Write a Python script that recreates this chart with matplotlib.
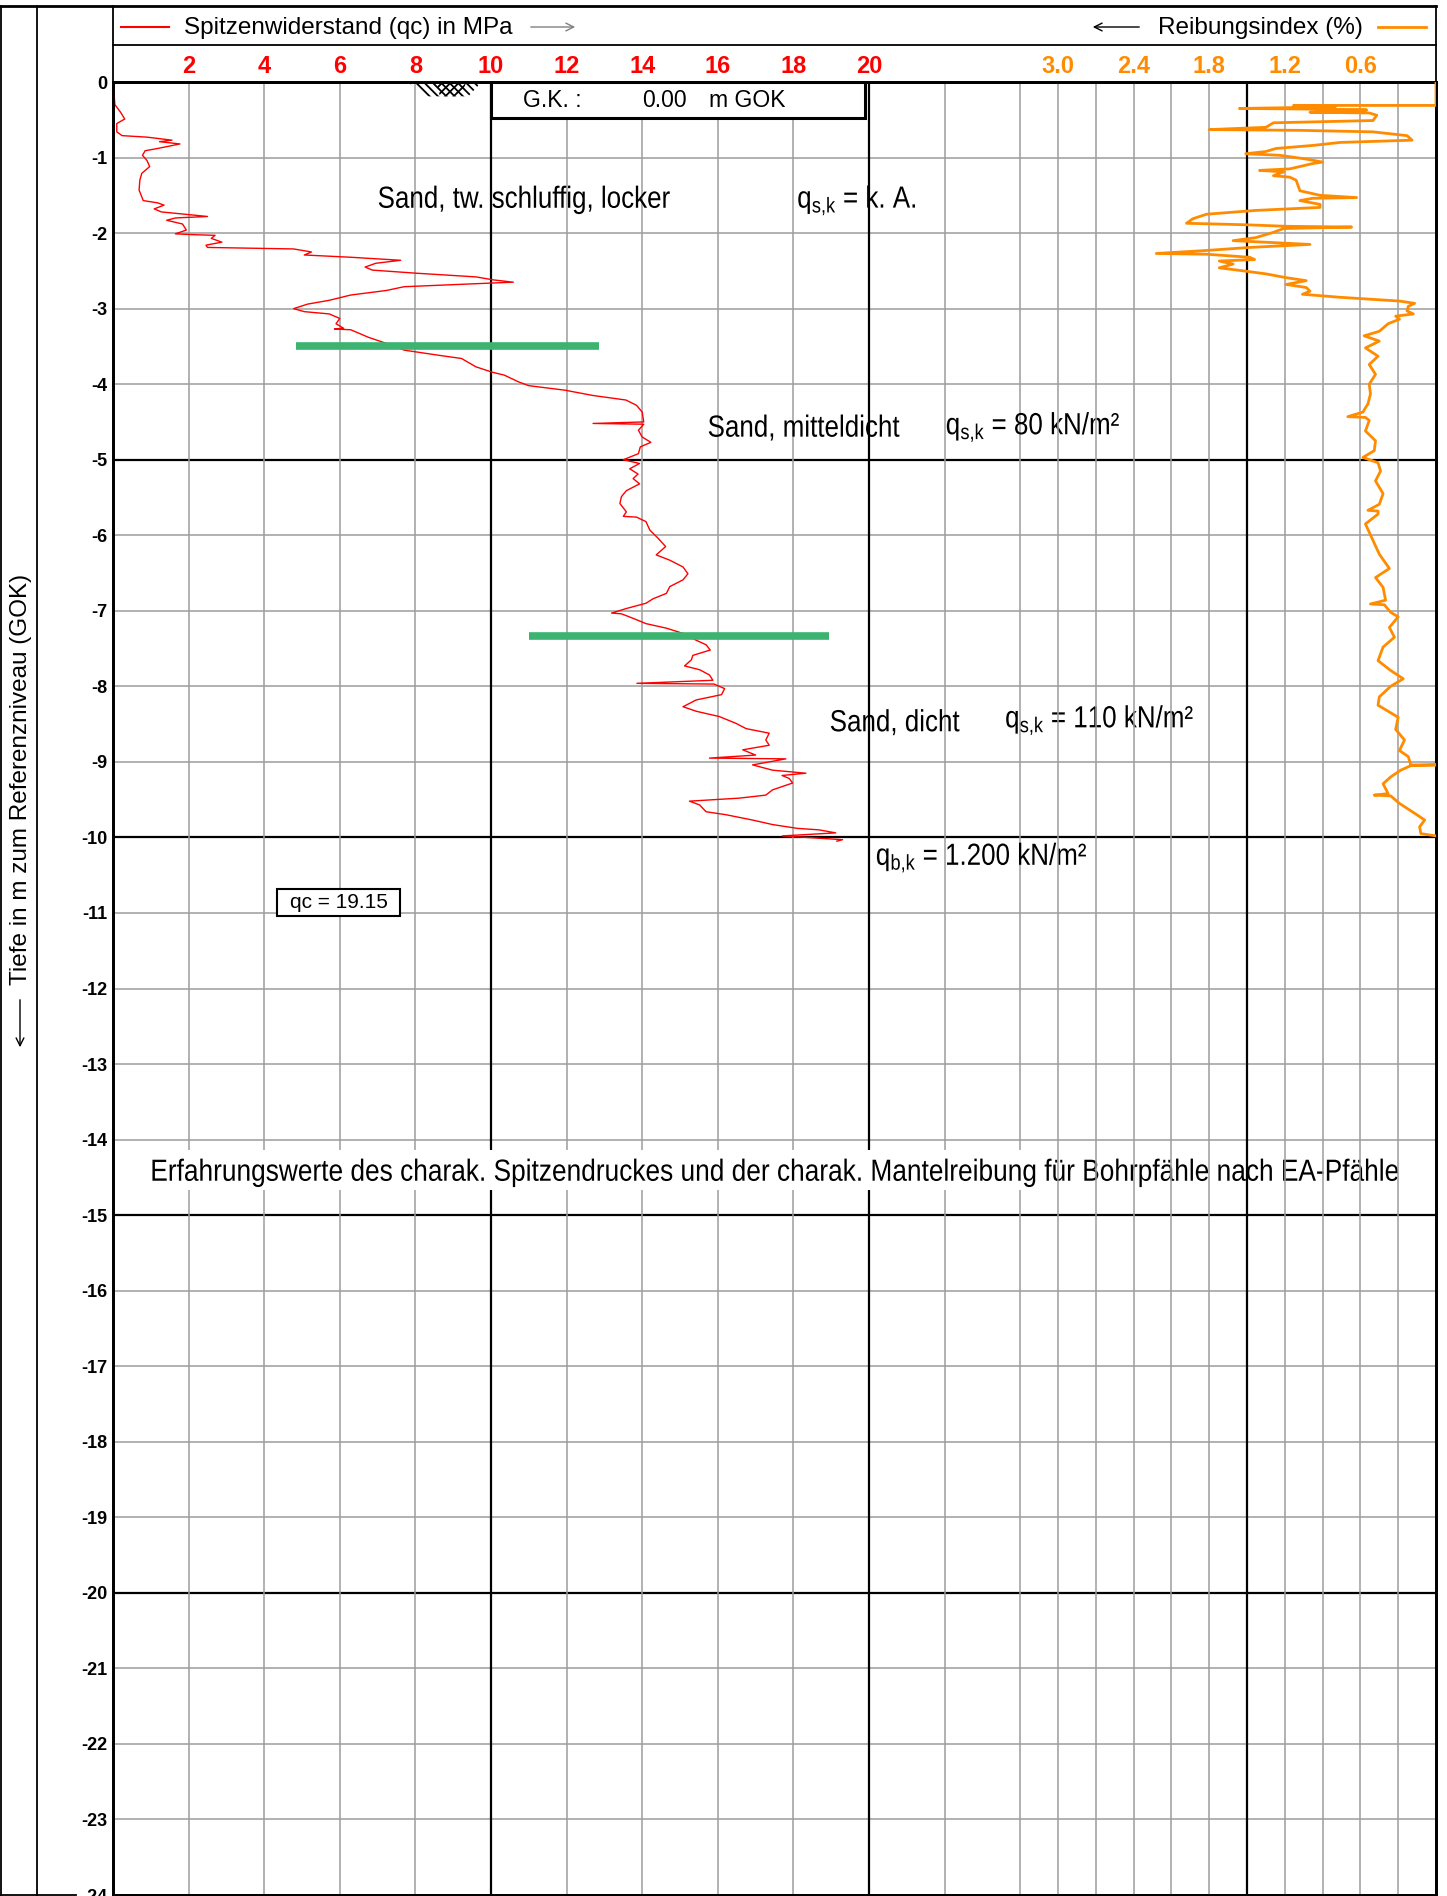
import matplotlib
matplotlib.use('Agg')
import matplotlib.pyplot as plt
from matplotlib.lines import Line2D
from matplotlib.patches import Rectangle, Polygon, PathPatch, FancyArrowPatch
from matplotlib.textpath import TextPath
from matplotlib.font_manager import FontProperties
from matplotlib.transforms import Affine2D, ScaledTranslation

plt.rcParams['font.family'] = ['Liberation Sans', 'DejaVu Sans']
plt.rcParams['mathtext.fontset'] = 'custom'
plt.rcParams['mathtext.rm'] = 'Liberation Sans'
plt.rcParams['mathtext.it'] = 'Liberation Sans'
plt.rcParams['hatch.linewidth'] = 1.3

ROT = '#ff0000'
ORANGE = '#ff8c00'
GRUEN = '#3cb371'
RASTER = '#9c9c9c'

# Spitzenwiderstand qc [MPa] ueber Tiefe [m]
qc_tiefe = [0.00, 0.30, 0.40, 0.49, 0.55, 0.66, 0.71, 0.73, 0.77, 0.79, 0.82, 0.88, 0.91, 0.97,
            1.04, 1.12, 1.21, 1.30, 1.43, 1.57, 1.60, 1.63, 1.68, 1.72, 1.78, 1.80, 1.83, 1.88,
            1.96, 2.01, 2.02, 2.03, 2.07, 2.12, 2.16, 2.19, 2.21, 2.25, 2.29, 2.32, 2.36, 2.40,
            2.45, 2.49, 2.53, 2.58, 2.62, 2.65, 2.67, 2.71, 2.76, 2.82, 2.89, 2.94, 3.00, 3.04,
            3.07, 3.13, 3.20, 3.26, 3.27, 3.28, 3.38, 3.46, 3.55, 3.62, 3.66, 3.77, 3.84, 3.88,
            3.97, 4.02, 4.08, 4.15, 4.21, 4.28, 4.37, 4.50, 4.52, 4.53, 4.61, 4.70, 4.77, 4.83,
            4.92, 5.00, 5.05, 5.12, 5.19, 5.25, 5.32, 5.41, 5.49, 5.58, 5.69, 5.75, 5.76, 5.82,
            5.93, 6.04, 6.15, 6.26, 6.33, 6.42, 6.51, 6.59, 6.68, 6.77, 6.84, 6.90, 6.97, 7.03,
            7.04, 7.10, 7.17, 7.23, 7.30, 7.39, 7.45, 7.52, 7.59, 7.65, 7.73, 7.78, 7.85, 7.92,
            7.96, 7.97, 8.03, 8.11, 8.18, 8.27, 8.33, 8.40, 8.49, 8.56, 8.62, 8.71, 8.78, 8.84,
            8.91, 8.95, 8.96, 9.04, 9.11, 9.15, 9.18, 9.22, 9.28, 9.37, 9.44, 9.48, 9.52, 9.57,
            9.66, 9.70, 9.77, 9.83, 9.88, 9.90, 9.94, 9.98, 10.03, 10.05]
qc_wert = [0.00, 0.05, 0.20, 0.31, 0.10, 0.10, 0.24, 0.90, 1.56, 1.23, 1.77, 1.18, 0.85, 0.78,
           0.90, 0.97, 0.76, 0.71, 0.69, 0.80, 1.18, 1.35, 1.09, 1.28, 2.50, 1.65, 1.42, 1.84,
           1.94, 1.65, 2.08, 2.70, 2.60, 2.88, 2.46, 2.50, 4.78, 5.25, 5.06, 6.29, 7.61, 6.95,
           6.67, 6.86, 7.99, 9.60, 10.07, 10.59, 9.60, 7.70, 7.23, 6.29, 5.72, 5.15, 4.78, 5.06,
           5.72, 6.00, 5.90, 6.10, 5.86, 6.29, 6.76, 7.23, 7.71, 8.65, 9.22, 9.60, 10.02, 10.35,
           10.73, 11.00, 11.96, 12.70, 13.57, 13.85, 14.00, 14.04, 12.70, 14.04, 13.90, 14.00, 14.23, 13.95,
           13.90, 13.50, 13.93, 13.67, 13.89, 13.76, 13.93, 13.58, 13.45, 13.41, 13.58, 13.50, 13.85, 14.10,
           14.20, 14.42, 14.62, 14.37, 14.73, 15.08, 15.21, 15.08, 14.73, 14.64, 14.29, 14.10, 13.58, 13.19,
           13.45, 13.76, 14.10, 14.64, 15.08, 15.43, 15.69, 15.80, 15.34, 15.30, 15.12, 15.52, 15.78, 15.87,
           13.86, 15.90, 16.18, 16.10, 15.43, 15.08, 15.43, 16.04, 16.48, 16.75, 17.36, 17.27, 17.36, 16.66,
           17.00, 15.78, 17.80, 16.92, 17.45, 18.33, 17.70, 17.89, 17.98, 17.45, 17.27, 16.57, 15.25, 15.52,
           15.69, 16.22, 16.92, 17.45, 18.10, 18.68, 19.12, 17.71, 19.30, 19.15]

# Reibungsindex Rf [%] ueber Tiefe [m]
rf_tiefe = [0.00, 0.31, 0.31, 0.33, 0.35, 0.36, 0.37, 0.38, 0.39, 0.40, 0.41, 0.44, 0.51, 0.54,
            0.60, 0.63, 0.64, 0.66, 0.71, 0.77, 0.80, 0.84, 0.88, 0.92, 0.95, 0.97, 1.02, 1.06,
            1.08, 1.15, 1.17, 1.19, 1.24, 1.26, 1.30, 1.44, 1.50, 1.53, 1.54, 1.57, 1.62, 1.66,
            1.70, 1.75, 1.81, 1.87, 1.89, 1.91, 1.92, 1.94, 1.99, 2.02, 2.06, 2.10, 2.15, 2.19,
            2.23, 2.27, 2.28, 2.32, 2.35, 2.37, 2.41, 2.46, 2.50, 2.54, 2.59, 2.63, 2.68, 2.72,
            2.77, 2.81, 2.85, 2.90, 2.93, 2.97, 3.03, 3.07, 3.10, 3.14, 3.20, 3.30, 3.36, 3.43,
            3.52, 3.63, 3.74, 3.87, 4.00, 4.13, 4.26, 4.37, 4.43, 4.44, 4.48, 4.62, 4.75, 4.88,
            4.97, 5.04, 5.15, 5.28, 5.45, 5.59, 5.67, 5.68, 5.72, 5.85, 6.07, 6.25, 6.44, 6.56,
            6.69, 6.86, 6.91, 6.92, 7.02, 7.08, 7.22, 7.35, 7.48, 7.66, 7.79, 7.90, 8.00, 8.14,
            8.25, 8.41, 8.57, 8.71, 8.85, 8.93, 9.04, 9.04, 9.05, 9.11, 9.20, 9.29, 9.42, 9.44,
            9.45, 9.55, 9.68, 9.77, 9.86, 9.95, 9.98]
rf_wert = [0.00, 0.00, 1.13, 0.80, 1.56, 0.90, 0.55, 0.95, 0.60, 1.00, 0.53, 0.47, 0.50, 1.29,
           1.35, 1.80, 1.08, 0.50, 0.23, 0.19, 0.76, 0.98, 1.27, 1.35, 1.51, 1.24, 1.03, 0.90,
           0.98, 1.16, 1.40, 1.21, 1.29, 1.16, 1.11, 1.08, 0.92, 0.63, 0.98, 1.08, 0.92, 0.92,
           1.43, 1.82, 1.93, 1.98, 1.51, 1.19, 0.67, 1.21, 1.29, 1.35, 1.43, 1.61, 1.00, 1.48,
           1.82, 2.22, 1.82, 1.48, 1.44, 1.72, 1.61, 1.72, 1.53, 1.35, 1.19, 1.03, 1.19, 1.03,
           1.00, 1.06, 0.76, 0.29, 0.17, 0.22, 0.23, 0.18, 0.32, 0.29, 0.38, 0.45, 0.57, 0.45,
           0.56, 0.46, 0.53, 0.48, 0.53, 0.52, 0.54, 0.58, 0.70, 0.56, 0.53, 0.56, 0.48, 0.49,
           0.58, 0.46, 0.44, 0.48, 0.42, 0.45, 0.54, 0.46, 0.46, 0.56, 0.50, 0.45, 0.37, 0.48,
           0.42, 0.40, 0.52, 0.41, 0.36, 0.30, 0.37, 0.33, 0.42, 0.46, 0.36, 0.26, 0.36, 0.45,
           0.46, 0.30, 0.32, 0.25, 0.29, 0.22, 0.20, 0.00, 0.20, 0.28, 0.36, 0.42, 0.38, 0.49,
           0.36, 0.29, 0.17, 0.09, 0.13, 0.12, 0.00]

# Schichtgrenzen (gruene Balken)
grenze_tiefe = [3.50, 7.33]
grenze_von = [4.85, 11.0]
grenze_bis = [12.85, 18.95]

# Achsen / Raster
qc_max = 35.0
rf_max = 10.5
qc_ticks = [2, 4, 6, 8, 10, 12, 14, 16, 18, 20]
rf_ticks = [3.0, 2.4, 1.8, 1.2, 0.6]
rf_ticklabels = ['3.0', '2.4', '1.8', '1.2', '0.6']
raster_qc = [2, 4, 6, 8, 10, 12, 14, 16, 18, 20, 22, 24]
raster_rf = [3.0, 2.7, 2.4, 2.1, 1.8, 1.5, 1.2, 0.9, 0.6, 0.3]
tiefe_ticks = list(range(0, -25, -1))
qc_ende = qc_wert[-1]

W, H = 1447, 1896


def fx(px):
    return px / W


def fy(py):
    return 1 - py / H


fig = plt.figure(figsize=(W / 100, H / 100), dpi=100)
ax = fig.add_axes([fx(113), fy(1895), (1436 - 113) / W, (1895 - 82) / H])
ax.set_xlim(0, qc_max)
ax.set_ylim(-24, 0)
ax2 = ax.twiny()
ax2.set_xlim(rf_max, 0)


def schmal(x, y, s, size=22.0, ha='left', stretch=0.85, hinterlegt=False, zorder=5):
    # schmal laufende schrift (Arial Narrow aehnlich) als gestauchter textpfad
    fp = FontProperties(family='Liberation Sans', size=size)
    tp = TextPath((0, 0), s, prop=fp)
    bb = tp.get_extents()
    dx = 0.0 if ha == 'left' else -(bb.x0 + bb.x1) / 2
    k = fig.dpi / 72
    trans = (Affine2D().translate(dx, -0.358 * size).scale(stretch * k, k)
             + ScaledTranslation(x, y, ax.transData))
    if hinterlegt:
        p = 0.12 * size
        ax.add_artist(Rectangle((bb.x0 - p, -0.3 * size), bb.width + 2 * p, 1.3 * size,
                                transform=trans, facecolor='white', edgecolor='none',
                                zorder=zorder - 0.5))
    ax.add_artist(PathPatch(tp, transform=trans, facecolor='black', edgecolor='none',
                            zorder=zorder))


# raster
for t in tiefe_ticks[1:]:
    fett = t % 5 == 0
    ax.axhline(t, color='black' if fett else RASTER, lw=1.6 if fett else 1.1, zorder=1)
for q in raster_qc:
    fett = q % 10 == 0
    ax.axvline(q, color='black' if fett else RASTER, lw=1.6 if fett else 1.1, zorder=1)
for r in raster_rf:
    fett = abs(r - 1.5) < 1e-6
    ax2.axvline(r, color='black' if fett else RASTER, lw=1.6 if fett else 1.1, zorder=1)

# kurven
ax.plot(qc_wert, [-t for t in qc_tiefe], color=ROT, lw=1.0, zorder=4)
ax2.plot(rf_wert, [-t for t in rf_tiefe], color=ORANGE, lw=2.0, zorder=4)
for t, a, b in zip(grenze_tiefe, grenze_von, grenze_bis):
    ax.plot([a, b], [-t, -t], color=GRUEN, lw=5.5, solid_capstyle='butt', zorder=6)

# gelaendekante
ax.add_patch(Rectangle((10, -0.47), 9.9, 0.47, facecolor='white', edgecolor='black', lw=2.2, zorder=3))
ax.text(10.85, -0.24, 'G.K. :', fontsize=16.5, va='center', zorder=5)
ax.text(15.18, -0.24, '0.00', fontsize=16.5, va='center', ha='right', zorder=5)
ax.text(15.76, -0.24, 'm GOK', fontsize=16.5, va='center', zorder=5)
ax.add_patch(Polygon([(7.8, 0), (9.75, 0), (9.4, -0.19), (8.25, -0.19)], closed=True,
                     facecolor='none', edgecolor='black', lw=0, hatch='\\\\\\\\', zorder=3))
ax.add_patch(Polygon([(8.55, 0), (9.35, 0), (9.2, -0.19), (8.65, -0.19)], closed=True,
                     facecolor='none', edgecolor='black', lw=0, hatch='////', zorder=3))

# bodenbeschreibung
schmal(7.0, -1.52, 'Sand, tw. schluffig, locker')
schmal(18.1, -1.52, r'$\mathregular{q_{s{,}k}}$ = k. A.')
schmal(15.73, -4.55, 'Sand, mitteldicht')
schmal(22.03, -4.52, r'$\mathregular{q_{s{,}k}}$ = 80 kN/m²')
schmal(18.96, -8.45, 'Sand, dicht')
schmal(23.6, -8.40, r'$\mathregular{q_{s{,}k}}$ = 110 kN/m²')
schmal(20.18, -10.22, r'$\mathregular{q_{b{,}k}}$ = 1.200 kN/m²')
schmal(17.52, -14.4,
       'Erfahrungswerte des charak. Spitzendruckes und der charak. Mantelreibung für Bohrpfähle nach EA-Pfähle',
       ha='center', stretch=0.86, hinterlegt=True)

# endwert qc im kasten
ax.add_patch(Rectangle((4.34, -11.04), 3.26, 0.355, facecolor='white', edgecolor='black',
                       lw=1.5, zorder=4.5))
ax.text(5.97, -10.86, 'qc = %.2f' % qc_ende, fontsize=15, ha='center', va='center', zorder=5)

# achsbeschriftung
ax.set_xticks(qc_ticks, labels=[str(q) for q in qc_ticks])
ax.set_yticks(tiefe_ticks, labels=[str(t) for t in tiefe_ticks])
ax.xaxis.tick_top()
ax.tick_params(axis='x', length=0, pad=3, labelcolor=ROT, labelsize=17)
ax.tick_params(axis='y', length=0, pad=4, labelsize=13)
ax2.set_xticks(rf_ticks, labels=rf_ticklabels)
ax2.tick_params(axis='x', length=0, pad=3, labelcolor=ORANGE, labelsize=17)
for lbl in ax.get_xticklabels() + ax2.get_xticklabels() + ax.get_yticklabels():
    lbl.set_fontweight('bold')
for a in (ax, ax2):
    for s in a.spines.values():
        s.set_linewidth(2.0)
        s.set_color('black')
ax.set_zorder(2)
ax2.set_zorder(3)
ax2.patch.set_visible(False)

# kopfzeile und rahmen
rahmen = [((0, 1436), (6, 6)), ((113, 1436), (45, 45)), ((113, 113), (6, 82)),
          ((1436, 1436), (6, 82)), ((37, 37), (6, 1896)), ((1, 1), (6, 1896)),
          ((0, 76), (1895, 1895))]
for (x0, x1), (y0, y1) in rahmen:
    fig.add_artist(Line2D([fx(x0), fx(x1)], [fy(y0), fy(y1)], color='black',
                          lw=2.0 if y0 == y1 == 6 else 1.3))
fig.add_artist(Line2D([fx(121), fx(169)], [fy(27), fy(27)], color=ROT, lw=1.5))
fig.text(fx(184), fy(28), 'Spitzenwiderstand (qc) in MPa', fontsize=17.5, va='center')
fig.add_artist(Line2D([fx(1378), fx(1426)], [fy(27), fy(27)], color=ORANGE, lw=2.0))
fig.text(fx(1158), fy(28), 'Reibungsindex (%)', fontsize=17.5, va='center')
fig.text(fx(21), fy(985), 'Tiefe in m zum Referenzniveau (GOK)', fontsize=17.5,
         rotation=90, ha='center', va='bottom')
pfeile = [((528, 27), (578, 27), '#808080'), ((1142, 27), (1090, 27), 'black'),
          ((20, 997), (20, 1050), 'black')]
for (x0, y0), (x1, y1), c in pfeile:
    fig.add_artist(FancyArrowPatch((fx(x0), fy(y0)), (fx(x1), fy(y1)),
                                   transform=fig.transFigure, arrowstyle='->',
                                   mutation_scale=14, color=c, lw=1.0))

fig.savefig('out.png', dpi=100)
